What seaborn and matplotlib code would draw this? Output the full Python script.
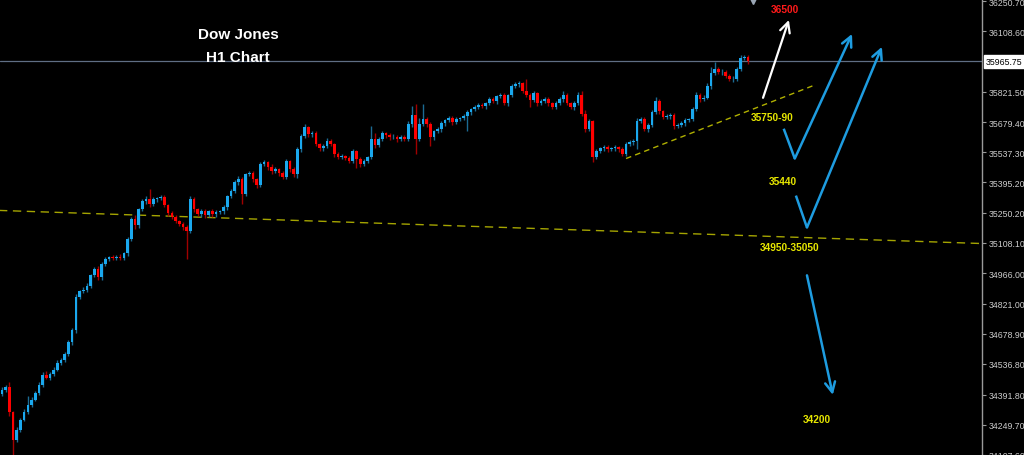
import numpy as np
import pandas as pd
import seaborn as sns
import matplotlib
matplotlib.use("Agg")
import matplotlib.pyplot as plt
import matplotlib.transforms as mtransforms

# ---------------- data (hourly candles, Dow Jones H1) ----------------
first_open = 34395
closes = [34415, 34425, 34307, 34179, 34226, 34273, 34311, 34344, 34368, 34401,
          34439, 34486, 34472, 34491, 34510, 34543, 34557, 34581, 34638, 34699,
          34855, 34879, 34888, 34907, 34955, 34983, 34945, 35011, 35030, 35040,
          35038, 35044, 35036, 35059, 35125, 35219, 35191, 35267, 35305, 35314,
          35290, 35314, 35319, 35323, 35286, 35248, 35229, 35210, 35196, 35182,
          35163, 35314, 35267, 35243, 35257, 35238, 35257, 35243, 35253, 35257,
          35276, 35328, 35352, 35394, 35409, 35338, 35432, 35437, 35409, 35380,
          35480, 35489, 35465, 35446, 35456, 35437, 35418, 35494, 35456, 35432,
          35550, 35612, 35655, 35621, 35626, 35574, 35555, 35565, 35588, 35574,
          35527, 35513, 35517, 35510, 35494, 35541, 35503, 35480, 35494, 35513,
          35598, 35569, 35598, 35626, 35617, 35607, 35610, 35598, 35607, 35598,
          35669, 35711, 35598, 35669, 35692, 35669, 35607, 35636, 35645, 35673,
          35688, 35697, 35678, 35692, 35697, 35707, 35726, 35740, 35749, 35759,
          35754, 35768, 35787, 35778, 35801, 35805, 35768, 35806, 35848, 35858,
          35863, 35825, 35806, 35782, 35815, 35768, 35778, 35787, 35768, 35749,
          35768, 35787, 35806, 35768, 35749, 35768, 35806, 35716, 35645, 35683,
          35513, 35541, 35555, 35560, 35550, 35555, 35560, 35550, 35527, 35574,
          35584, 35588, 35683, 35692, 35645, 35664, 35726, 35778, 35730, 35702,
          35706, 35712, 35659, 35664, 35673, 35688, 35692, 35740, 35806, 35787,
          35795, 35848, 35910, 35929, 35915, 35918, 35896, 35882, 35885, 35929,
          35981, 35986, 35966]

upper_wick = [12, 10, 28, 8, 10, 8, 12, 40, 10, 8,
              10, 12, 15, 8, 10, 12, 8, 10, 12, 8,
              10, 8, 12, 10, 8, 12, 15, 8, 10, 8,
              10, 8, 12, 8, 10, 12, 20, 8, 10, 15,
              47, 10, 8, 12, 10, 8, 12, 10, 8, 10,
              12, 15, 10, 8, 12, 10, 8, 10, 12, 8,
              10, 8, 12, 10, 15, 10, 8, 12, 10, 8,
              12, 10, 8, 15, 10, 8, 12, 10, 8, 10,
              12, 10, 14, 8, 10, 12, 8, 10, 15, 10,
              8, 12, 10, 8, 10, 12, 8, 10, 12, 8,
              64, 30, 10, 12, 8, 10, 12, 8, 10, 12,
              15, 45, 55, 30, 74, 10, 12, 8, 10, 12,
              8, 10, 12, 10, 8, 10, 12, 8, 10, 12,
              10, 8, 12, 10, 8, 12, 10, 8, 10, 12,
              10, 8, 60, 10, 12, 8, 10, 12, 10, 8,
              12, 10, 20, 10, 8, 12, 15, 19, 20, 10,
              8, 10, 8, 10, 12, 8, 10, 8, 12, 10,
              12, 10, 15, 10, 12, 10, 12, 18, 10, 8,
              10, 12, 8, 10, 12, 10, 8, 12, 14, 10,
              12, 15, 30, 35, 10, 12, 8, 10, 12, 10,
              15, 10, 8]

lower_wick = [10, 12, 15, 80, 12, 10, 8, 12, 10, 8,
              12, 10, 8, 10, 12, 8, 10, 12, 8, 10,
              15, 10, 8, 12, 10, 8, 10, 12, 10, 8,
              10, 12, 8, 10, 12, 10, 15, 10, 8, 12,
              10, 8, 12, 10, 8, 12, 10, 8, 10, 12,
              133, 10, 12, 8, 10, 12, 8, 10, 12, 8,
              10, 12, 8, 10, 12, 48, 10, 8, 12, 10,
              8, 10, 12, 10, 8, 12, 10, 8, 12, 10,
              15, 10, 8, 12, 10, 8, 12, 10, 8, 10,
              12, 8, 10, 12, 10, 8, 40, 12, 10, 8,
              10, 12, 8, 10, 12, 10, 8, 12, 10, 8,
              10, 12, 68, 10, 8, 12, 39, 10, 8, 12,
              10, 8, 12, 10, 8, 10, 70, 12, 10, 8,
              10, 12, 8, 10, 12, 8, 10, 12, 10, 8,
              12, 10, 8, 30, 10, 12, 8, 10, 12, 10,
              8, 10, 12, 10, 8, 12, 10, 8, 12, 10,
              20, 10, 8, 10, 12, 8, 10, 12, 10, 8,
              10, 12, 38, 10, 8, 12, 10, 8, 12, 10,
              8, 10, 12, 10, 8, 12, 10, 8, 10, 12,
              10, 8, 12, 10, 8, 12, 10, 8, 12, 10,
              8, 10, 12]

current_price = 35965.75
tick_labels = ["36250.70", "36108.60", "35821.50", "35679.40", "35537.30",
               "35395.20", "35250.20", "35108.10", "34966.00", "34821.00",
               "34678.90", "34536.80", "34391.80", "34249.70", "34107.60"]

# drawing objects (bar index, price)
support_x = [-1.0, 266.0]
support_y = [35262, 35105]
trend_x = [169.0, 219.6]
trend_y = [35507, 35851]
white_arrow = [(206.1, 35794), (213.1, 36162)]
blue_path1 = [(211.7, 35648), (214.7, 35507), (230.2, 36096)]
blue_path2 = [(215.0, 35332), (218.0, 35181), (238.3, 36035)]
blue_path3 = [(218.0, 34955), (225.0, 34390)]
level_labels = ["35750-90", "35440", "34950-35050", "34200"]
level_pos = [(208.5, 35705), (211.5, 35403), (213.4, 35087), (220.7, 34277)]
target_label = "36500"
target_pos = (212.0, 36214)
title_lines = ["Dow Jones", "H1 Chart"]

# ---------------- build frame ----------------
df = pd.DataFrame({"close": closes, "uw": upper_wick, "lw": lower_wick})
df["open"] = [first_open] + closes[:-1]
df["top"] = df[["open", "close"]].max(axis=1)
df["bot"] = df[["open", "close"]].min(axis=1)
df["high"] = df["top"] + df["uw"]
df["low"] = df["bot"] - df["lw"]
df["up"] = df["close"] >= df["open"]
df["idx"] = np.arange(len(df))

sns.set_theme(style="dark", rc={"axes.facecolor": "black", "figure.facecolor": "black"})
plt.rcParams["font.family"] = ["Liberation Sans", "DejaVu Sans"]
scale_size = 6.3

fig = plt.figure(figsize=(10.24, 4.56), dpi=100)
ax = fig.add_axes([0, 0, 982 / 1024, 1])
ax.set_facecolor("black")

UP_BODY, UP_WICK = "#1aa8ee", "#1b6b93"
DN_BODY, DN_WICK = "#ff0000", "#a00000"

wick_colors = np.where(df["up"], UP_WICK, DN_WICK)
body_colors = np.where(df["up"], UP_BODY, DN_BODY)
ax.vlines(df["idx"], df["low"], df["high"], colors=wick_colors, linewidth=1.0, zorder=2)
heights = (df["top"] - df["bot"]).clip(lower=3)
ax.bar(df["idx"], heights, bottom=df["bot"], width=0.72, color=body_colors,
       linewidth=0, zorder=3)

# current price line
ax.axhline(current_price, color="#5f6e84", linewidth=0.9, zorder=1)

# dashed support lines
ax.plot(support_x, support_y, color="#a4a400", linewidth=1.0,
        linestyle=(0, (6, 4)), zorder=1)
ax.plot(trend_x, trend_y, color="#b0b000", linewidth=1.0,
        linestyle=(0, (4, 3)), zorder=1)

# arrows
arrow_kw = "->, head_length=0.6, head_width=0.3"
ax.annotate("", xy=white_arrow[1], xytext=white_arrow[0],
            arrowprops=dict(arrowstyle=arrow_kw, color="white", lw=1.6, shrinkA=0, shrinkB=0))
BLUE = "#1e9ce0"
for path in (blue_path1, blue_path2):
    ax.plot([path[0][0], path[1][0]], [path[0][1], path[1][1]], color=BLUE, lw=1.8,
            solid_capstyle="butt", zorder=4)
    ax.annotate("", xy=path[2], xytext=path[1],
                arrowprops=dict(arrowstyle=arrow_kw, color=BLUE, lw=1.8, shrinkA=0, shrinkB=0))
ax.annotate("", xy=blue_path3[1], xytext=blue_path3[0],
            arrowprops=dict(arrowstyle=arrow_kw, color=BLUE, lw=1.8, shrinkA=0, shrinkB=0))

# labels
for lab, (x, y) in zip(level_labels, level_pos):
    ax.text(x, y, lab, color="#e6e600", fontsize=7.3, fontweight="bold",
            ha="center", va="center", zorder=5)
ax.text(target_pos[0], target_pos[1], target_label, color="#ff1a1a", fontsize=7.3,
        fontweight="bold", ha="center", va="center", zorder=5)

ax.text(238 / 982, 1 - 35 / 456, title_lines[0], transform=ax.transAxes, color="white",
        fontsize=11, fontweight="bold", ha="center", va="center")
ax.text(238 / 982, 1 - 57.5 / 456, title_lines[1], transform=ax.transAxes, color="white",
        fontsize=11, fontweight="bold", ha="center", va="center")

# limits and axis
ax.set_xlim(-0.54, 265.4)
ax.set_ylim(34106, 36261)
ax.set_xticks([])
ax.yaxis.tick_right()
ax.set_yticks([float(t) for t in tick_labels])
ax.set_yticklabels(tick_labels)
ax.tick_params(axis="y", which="both", right=True, left=False, length=3, width=0.8,
               color="#9a9a9a", labelcolor="#cccccc", labelsize=scale_size, pad=2)
ax.grid(False)
for side in ("left", "bottom"):
    ax.spines[side].set_visible(False)
ax.spines["right"].set_color("#9a9a9a")
ax.spines["right"].set_linewidth(1.0)
ax.spines["top"].set_color("#8a8a8a")
ax.spines["top"].set_linewidth(1.2)

# current price box on axis
trans = mtransforms.blended_transform_factory(ax.transAxes, ax.transData)
ax.text(1.004, current_price, f"{current_price:.2f}", transform=trans, color="black",
        fontsize=scale_size, ha="left", va="center", clip_on=False,
        bbox=dict(facecolor="white", edgecolor="white", boxstyle="square,pad=0.2"))

# chart shift marker
ax.plot([203.4], [36252], marker="v", markersize=5, color="#9aa6b4", clip_on=False,
        linestyle="none", zorder=6)

fig.savefig("out.png", dpi=100, facecolor="black")
